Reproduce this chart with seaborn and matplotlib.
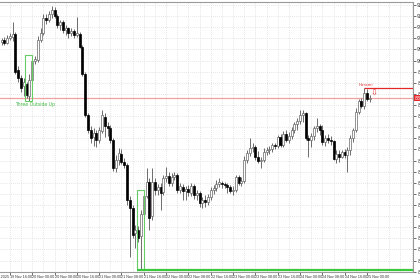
import matplotlib
matplotlib.use("Agg")
import matplotlib.pyplot as plt
import seaborn as sns
import numpy as np
import pandas as pd
from matplotlib.patches import Rectangle

sns.set_theme(style="white")
plt.rcParams['font.family'] = ['DejaVu Sans']
NARROW = ['Liberation Sans Narrow', 'Liberation Sans', 'DejaVu Sans']

# ---------------- data (H1 bars) ----------------
start_time = "2025-11-19 13:00"
opens = [90835, 90925, 90790, 91015, 91060, 91195, 89575, 89215, 88855, 88945,
         88405, 89125, 89980, 90025, 90925, 91240, 91915, 91825, 92095, 92275,
         92005, 91600, 91735, 91375, 91465, 91240, 91330, 91150, 91195, 90610,
         89395, 87550, 86875, 86560, 86740, 86425, 86830, 87460, 87055, 86965,
         86425, 85165, 85525, 85795, 85435, 85300, 83725, 83365, 82240, 82375,
         82105, 83095, 83905, 84535, 83005, 84535, 84175, 84310, 84085, 84715,
         84805, 84490, 84760, 84850, 84175, 84310, 84130, 84220, 84040, 84355,
         83950, 84040, 83590, 83725, 83635, 83860, 84175, 84265, 84445, 84490,
         84445, 84400, 84310, 84130, 84175, 84760, 84490, 84580, 85525, 85840,
         86065, 86110, 85660, 85480, 85525, 85885, 85975, 86020, 86200, 86155,
         86560, 86200, 86695, 86425, 86605, 86875, 87145, 87280, 87550, 87640,
         86515, 86425, 86605, 86965, 87055, 86875, 86335, 86515, 86425, 86380,
         85570, 85795, 85660, 85885, 85750, 85975, 86515, 86875, 87685, 88180,
         87955, 88540, 88270]
highs = [91015, 91060, 91150, 91240, 91735, 91285, 89755, 89350, 89215, 89035,
         89395, 90250, 90205, 91105, 91465, 92095, 92095, 92230, 92455, 92410,
         92095, 91825, 91825, 91600, 91510, 91465, 91420, 91960, 91285, 90700,
         89485, 87640, 87055, 86965, 86875, 87010, 87775, 87640, 87235, 87100,
         86515, 85750, 86065, 86020, 85615, 85390, 83905, 83500, 82600, 82555,
         83275, 84175, 85165, 84715, 85165, 84715, 84445, 84490, 84850, 85210,
         84985, 84940, 84985, 84940, 84490, 84445, 84355, 84400, 84490, 84445,
         84175, 84130, 83860, 83950, 83995, 84310, 84400, 84625, 84715, 84580,
         84535, 84490, 84400, 84355, 84850, 84850, 84760, 85705, 85975, 86515,
         86290, 86200, 85930, 85660, 86065, 86110, 86155, 86290, 86290, 86650,
         86695, 86830, 86875, 86785, 87010, 87235, 87415, 87775, 87775, 87685,
         86650, 86740, 87055, 87415, 87145, 87100, 86650, 86695, 86605, 86425,
         85975, 85975, 85975, 86020, 86110, 86650, 86965, 87865, 88270, 88315,
         88765, 88720, 88450]
lows = [90700, 90700, 90745, 90925, 90880, 89395, 89035, 88585, 88405, 88315,
        88180, 89035, 89845, 89935, 90835, 91150, 91645, 91735, 91915, 91915,
        91465, 91375, 91240, 91150, 91015, 91105, 91015, 91060, 90565, 89305,
        87460, 86740, 86290, 86155, 86110, 86290, 86740, 86560, 86605, 86290,
        85030, 84985, 85300, 85345, 85165, 83500, 81160, 82015, 81565, 81835,
        80575, 82825, 83815, 82375, 82825, 83950, 83950, 83275, 83950, 84535,
        84355, 84355, 84625, 84040, 84040, 83725, 83725, 83905, 83905, 83770,
        83725, 83410, 83365, 83410, 83500, 83725, 83995, 84130, 84310, 84265,
        84265, 84040, 84040, 83950, 84085, 84400, 84355, 84490, 85390, 85705,
        85885, 85525, 85390, 85165, 85435, 85750, 85795, 85885, 86020, 86065,
        86110, 86110, 86335, 86290, 86470, 86740, 86875, 87145, 87235, 86425,
        85660, 86110, 86425, 86785, 86650, 86200, 86155, 86290, 86200, 85525,
        85390, 85435, 85615, 85615, 84985, 85750, 86335, 86785, 87595, 87865,
        87820, 88180, 88135]
closes = [90925, 90790, 91015, 91105, 91195, 89485, 89215, 88765, 89035, 88450,
          89125, 89980, 90070, 90925, 91240, 91915, 91825, 92095, 92275, 92005,
          91600, 91735, 91375, 91465, 91240, 91330, 91150, 91240, 90610, 89395,
          87550, 86875, 86515, 86740, 86425, 86875, 87550, 87055, 86965, 86425,
          85165, 85525, 85840, 85435, 85300, 83725, 83365, 82150, 82375, 82015,
          83095, 83905, 84535, 82915, 84535, 84175, 84310, 84040, 84715, 84805,
          84490, 84760, 84850, 84175, 84355, 84130, 84220, 84085, 84355, 83950,
          84040, 83590, 83725, 83635, 83860, 84175, 84265, 84445, 84535, 84445,
          84400, 84310, 84130, 84175, 84760, 84490, 84580, 85525, 85840, 86065,
          86110, 85660, 85480, 85525, 85885, 85975, 86020, 86200, 86155, 86560,
          86200, 86695, 86425, 86605, 86875, 87145, 87280, 87550, 87640, 86515,
          86425, 86605, 86965, 87055, 86875, 86335, 86515, 86425, 86380, 85570,
          85795, 85660, 85885, 85750, 85975, 86515, 86875, 87685, 88180, 87955,
          88540, 88270, 88315]

y_ticks = list(range(80500, 93000, 500))
first_date_label = "19 Nov 2025"
outside_up_bars = [9, 10, 11]      # "Three Outside Up"
bottom_box_bars = [49, 50, 51]     # second pattern box
harami_bars = [130, 131]           # "Harami"

# ---------------- frame ----------------
times = pd.date_range(start_time, periods=len(opens), freq="h")
df = pd.DataFrame(dict(t=times, o=opens, h=highs, l=lows, c=closes))
df["x"] = np.arange(len(df))
df["bull"] = df["c"] >= df["o"]
bid = closes[-1]

fig = plt.figure(figsize=(4.2, 2.8), dpi=100)
ax = fig.add_axes([0, 8 / 280, 413 / 420, 270.5 / 280])
ax.set_facecolor("white")
XMIN, XMAX = -0.54, 147.49
ax.set_xlim(XMIN, XMAX)
ax.set_ylim(80485, 92657.5)

# grid (dotted, every 4 bars / every tick)
first_grid = int(df.index[df["t"].dt.hour % 4 == 0][0])
for gx in np.arange(first_grid, XMAX, 4):
    ax.axvline(gx, color="#dcdcdc", lw=0.6, ls=(0, (1, 1.5)), zorder=0)
for gy in y_ticks:
    ax.axhline(gy, color="#dcdcdc", lw=0.6, ls=(0, (1, 1.5)), zorder=0)

# bid line
ax.axhline(bid, color="#f2a0a0", lw=0.9, zorder=1)

# candles
ax.vlines(df["x"], df["l"], df["h"], colors="#555555", lw=0.6, zorder=2)
body_bottom = np.minimum(df["o"], df["c"])
body_h = np.maximum(np.abs(df["c"] - df["o"]), 20)
face = np.where(df["bull"], "white", "black")
edge = np.where(df["bull"], "#666666", "black")
ax.bar(df["x"], body_h, bottom=body_bottom, width=0.72, color=face,
       edgecolor=edge, linewidth=0.5, zorder=3)

# pattern boxes
def box(bars, color, lw):
    hi = max(highs[b] for b in bars)
    lo = min(lows[b] for b in bars)
    x0 = bars[0] - 0.5
    ax.add_patch(Rectangle((x0, lo), bars[-1] - x0, hi - lo, fill=False,
                           edgecolor=color, lw=lw, zorder=4))
    return x0, hi, lo

bx0, bhi, blo = box(outside_up_bars, "#66cc66", 0.8)
ax.annotate("Three Outside Up", ((bx0 + outside_up_bars[-1]) / 2, blo),
            xytext=(4.5, -0.6), textcoords="offset points", ha="center",
            va="top", fontsize=3.3, color="#44bb44", zorder=5)

cx0, chi, clo = box(bottom_box_bars, "#66cc66", 0.8)
ax.hlines(clo, cx0, XMAX, color="#3cc83c", lw=1.6, zorder=4)

# harami
hh = highs[harami_bars[0]]
ax.hlines(hh, harami_bars[0], XMAX, color="#e02828", lw=0.9, zorder=4)
ax.annotate("Harami", (np.mean(harami_bars), hh), xytext=(0, 0.8),
            textcoords="offset points", ha="center", va="bottom",
            fontsize=2.9, color="#e03030", zorder=5)
ax.annotate("\u21e9", (harami_bars[-1] + 2.5, hh), xytext=(0, -0.6),
            textcoords="offset points", ha="center", va="top",
            fontsize=6, color="#e03030", zorder=5)

# axes / spines
for s in ["top", "right", "bottom"]:
    ax.spines[s].set_visible(True)
    ax.spines[s].set_color("#9a9a9a")
    ax.spines[s].set_linewidth(0.8)
ax.spines["left"].set_visible(False)

ax.yaxis.tick_right()
ax.set_yticks(y_ticks)
ax.set_yticklabels([f"{v:.2f}" for v in y_ticks])
ax.tick_params(axis="y", right=True, length=2, width=0.5, pad=1,
               labelsize=3.3, colors="#333333")

lab = df[df["t"].dt.hour % 8 == 0]
ax.set_xticks(lab["x"])
ax.set_xticklabels([t.strftime("%-d %b %H:%M") for t in lab["t"]])
ax.tick_params(axis="x", bottom=True, length=2, width=0.5, pad=0.5,
               labelsize=2.7, colors="#333333")
for t in ax.get_xticklabels():
    t.set_ha("left")
    t.set_family(NARROW)
ax.text(XMIN + 3.2, -0.012, first_date_label, transform=ax.get_xaxis_transform(),
        ha="right", va="top", fontsize=2.7, family=NARROW, color="#333333",
        clip_on=False)

# bid label on the price axis
ax.text(1.004, bid, f"{bid:.2f}", transform=ax.get_yaxis_transform(),
        ha="left", va="center", fontsize=3.3, color="white", clip_on=False,
        bbox=dict(boxstyle="square,pad=0.15", fc="#e8262a", ec="none"),
        zorder=10)

ax.set_xlabel("")
ax.set_ylabel("")
fig.savefig("out.png", dpi=100)
